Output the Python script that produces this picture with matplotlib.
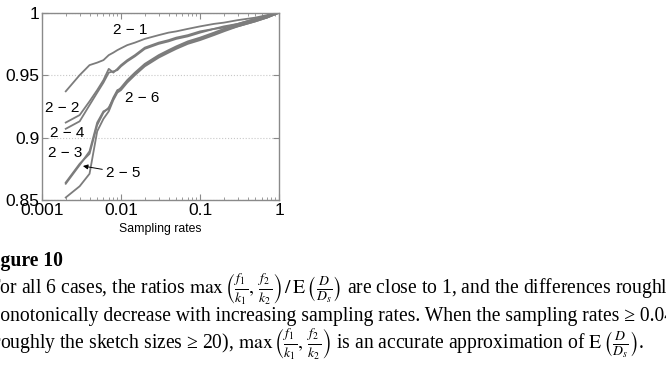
import matplotlib
matplotlib.use("Agg")
import matplotlib.pyplot as plt
import numpy as np

# sampling rates and the max(f1/k1, f2/k2)/E(D/Ds) ratios
rates = [0.002, 0.003, 0.004, 0.005, 0.006, 0.007, 0.008, 0.009, 0.01, 0.012,
         0.015, 0.02, 0.03, 0.04, 0.05, 0.07, 0.1, 0.15, 0.2, 0.3, 0.5, 0.7, 1.0]

r21 = [0.937, 0.950, 0.958, 0.960, 0.962, 0.966, 0.968, 0.970, 0.9715, 0.974,
       0.976, 0.979, 0.982, 0.984, 0.985, 0.987, 0.989, 0.991, 0.992, 0.994, 0.996, 0.998, 1.0]
r22 = [0.912, 0.918, 0.929, 0.938, 0.946, 0.955, 0.952, 0.955, 0.958, 0.962,
       0.966, 0.972, 0.976, 0.978, 0.980, 0.982, 0.985, 0.987, 0.989, 0.991, 0.995, 0.997, 1.0]
r24 = [0.907, 0.913, 0.926, 0.936, 0.944, 0.952, 0.953, 0.954, 0.957, 0.961,
       0.965, 0.971, 0.975, 0.977, 0.979, 0.981, 0.984, 0.987, 0.988, 0.991, 0.995, 0.997, 1.0]
r23 = [0.863, 0.878, 0.889, 0.912, 0.921, 0.923, 0.932, 0.938, 0.939, 0.945,
       0.951, 0.958, 0.965, 0.969, 0.972, 0.976, 0.979, 0.983, 0.986, 0.989, 0.993, 0.996, 1.0]
r25 = [0.864, 0.879, 0.887, 0.910, 0.920, 0.924, 0.931, 0.937, 0.940, 0.946,
       0.952, 0.959, 0.966, 0.970, 0.973, 0.977, 0.980, 0.984, 0.987, 0.990, 0.994, 0.996, 1.0]
r26 = [0.852, 0.861, 0.871, 0.905, 0.915, 0.921, 0.930, 0.936, 0.938, 0.944,
       0.950, 0.957, 0.964, 0.968, 0.971, 0.975, 0.978, 0.982, 0.985, 0.989, 0.993, 0.996, 1.0]

x_ticks = [0.001, 0.01, 0.1, 1]
x_labels = ["0.001", "0.01", "0.1", "1"]
y_ticks = [0.85, 0.9, 0.95, 1]
y_labels = ["0.85", "0.9", "0.95", "1"]

plt.rcParams["mathtext.fontset"] = "stix"

fig = plt.figure(figsize=(6.66, 3.8), dpi=100)
ax = fig.add_axes([0.063, 0.4737, 0.356, 0.493])

line_col = "#7c7c7c"
for ys in [r21, r22, r24, r23, r25, r26]:
    ax.plot(rates, ys, color=line_col, lw=1.3)

ax.set_xscale("log")
ax.set_xlim(0.001, 1)
ax.set_ylim(0.85, 1)
ax.set_xticks(x_ticks)
ax.set_xticklabels(x_labels)
ax.set_yticks(y_ticks)
ax.set_yticklabels(y_labels)
ax.grid(axis="y", linestyle=":", color="#c8c8c8", lw=0.8)

for s in ax.spines.values():
    s.set_color("#8a8a8a")
    s.set_linewidth(1.0)
ax.tick_params(which="both", direction="in", top=True, right=True, color="#8a8a8a")
ax.tick_params(which="major", length=4, labelsize=12.5, pad=2)
ax.tick_params(which="minor", length=2)
ax.tick_params(axis="y", which="minor", left=False, right=False)
for lab in ax.get_xticklabels() + ax.get_yticklabels():
    lab.set_family("Liberation Sans")

ax.set_xlabel("Sampling rates", fontsize=8.8, family="Liberation Sans", va="center")
ax.xaxis.set_label_coords(0.5, -0.155)

# curve labels
lab_kw = dict(fontsize=11, family="Liberation Sans", ha="center", va="center")
ax.text(0.0129, 0.986, "2 \u2212 1", **lab_kw)
ax.text(0.00179, 0.9237, "2 \u2212 2", **lab_kw)
ax.text(0.00207, 0.9037, "2 \u2212 4", **lab_kw)
ax.text(0.00195, 0.8876, "2 \u2212 3", **lab_kw)
ax.text(0.0188, 0.9317, "2 \u2212 6", **lab_kw)
ax.annotate("2 \u2212 5", xy=(0.0033, 0.8772), xytext=(0.0108, 0.8716),
            arrowprops=dict(arrowstyle="-|>", color="black", lw=0.7,
                            shrinkA=1, shrinkB=0, mutation_scale=7),
            **lab_kw)

# caption under the figure (clipped on the left like the page crop)
cap_kw = dict(fontsize=14.1, family="Liberation Serif", va="baseline", ha="left")
ratio = r"$\max\,\left(\frac{f_1}{k_1},\, \frac{f_2}{k_2}\right)$"
expect = r"$\mathrm{E}\,\left(\frac{D}{D_s}\right)$"
fig.text(-0.026, 0.299, "Figure 10", fontweight="bold", **cap_kw)
fig.text(-0.0164, 0.2250,
         "For all 6 cases, the ratios " + ratio + r"$\,/\,$" + expect
         + " are close to 1, and the differences roughly", **cap_kw)
fig.text(-0.0229, 0.1540,
         "monotonically decrease with increasing sampling rates. When the sampling rates \u2265 0.04",
         **cap_kw)
fig.text(-0.0196, 0.0810,
         "(roughly the sketch sizes \u2265 20), " + ratio
         + " is an accurate approximation of " + expect + ".", **cap_kw)

fig.savefig("out.png", dpi=100)
